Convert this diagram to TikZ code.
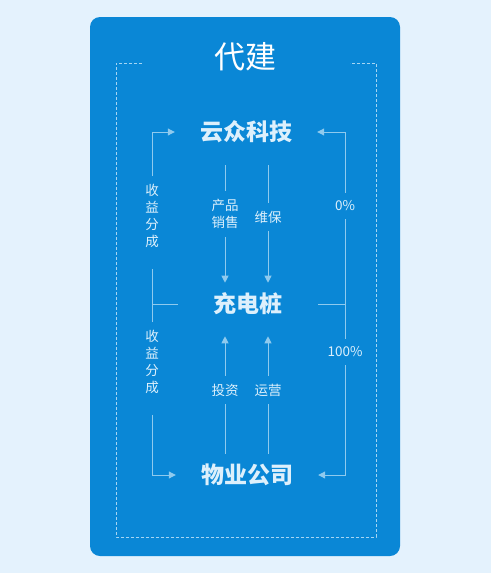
\documentclass[tikz,border=0pt]{standalone}
\usepackage{fontspec}
\setmainfont{Noto Sans CJK SC}
\usetikzlibrary{arrows.meta}
\definecolor{pagebg}{HTML}{E4F2FD}
\definecolor{cardblue}{HTML}{0A87D6}
\definecolor{lineblue}{HTML}{8FCAEE}
\definecolor{dashblue}{HTML}{A6D5F3}
\definecolor{textblue}{HTML}{DDF0FC}
\tikzset{
  party/.style={text=textblue,font=\bfseries\fontsize{23}{23}\selectfont,inner xsep=25pt,inner ysep=10pt},
  tag/.style={text=textblue,font=\fontsize{13.5}{17}\selectfont,align=center,inner sep=8pt},
  link/.style={draw=lineblue,line width=1pt}
}
\begin{document}
\begin{tikzpicture}[x=1pt,y=-1pt,>={Triangle[length=7pt,width=7pt]}]
   \useasboundingbox (0,0) rectangle (491,573);
   %background
   \fill[pagebg] (0,0) rectangle (491,573);
   \fill[cardblue,rounded corners=10pt] (90,17) rectangle (400,556);
   %dashed frame
   \draw[dashblue,dash pattern=on 3pt off 2pt,line width=0.9pt] (142,63) -- (116,63) -- (116,537) -- (376,537) -- (376,63) -- (350,63);
   \node[text=white,font=\fontsize{31}{31}\selectfont] (title) at (245,57) {代建};
   %main nodes
   \node[party] (yz) at (246,132) {云众科技};
   \node[party,inner xsep=35pt] (cdz) at (248,304) {充电桩};
   \node[party] (wy) at (247,475) {物业公司};
   %labels
   \node[tag] (sale) at (225,214) {产品\\销售};
   \node[tag] (care) at (268,217) {维保};
   \node[tag] (invest) at (225,390) {投资};
   \node[tag] (run) at (268,390) {运营};
   \node[tag] (shareup) at (152,216) {收\\益\\分\\成};
   \node[tag] (sharedown) at (152,362) {收\\益\\分\\成};
   \node[tag] (zero) at (345,206) {0\%};
   \node[tag] (full) at (345,352) {100\%};
   %middle
   \draw[link,shorten <=12pt] (yz.south -| sale) -- (sale);
   \draw[link,->] (sale) -- (sale |- cdz.north);
   \draw[link,shorten <=12pt] (yz.south -| care) -- (care);
   \draw[link,->] (care) -- (care |- cdz.north);
   \draw[link,->,shorten >=11pt] (invest) -- (invest |- cdz.south);
   \draw[link] (invest) -- (invest |- wy.north);
   \draw[link,->,shorten >=11pt] (run) -- (run |- cdz.south);
   \draw[link] (run) -- (run |- wy.north);
   %left
   \draw[link,->] (shareup) |- (yz);
   \draw[link,shorten <=13pt] (shareup) |- (cdz);
   \draw[link] (sharedown) |- (cdz);
   \draw[link,->,shorten <=13pt] (sharedown) |- (wy);
   %right
   \draw[link,->] (zero) |- (yz);
   \draw[link] (zero) |- (cdz);
   \draw[link] (full) |- (cdz);
   \draw[link,->] (full) |- (wy);
\end{tikzpicture}
\end{document}
